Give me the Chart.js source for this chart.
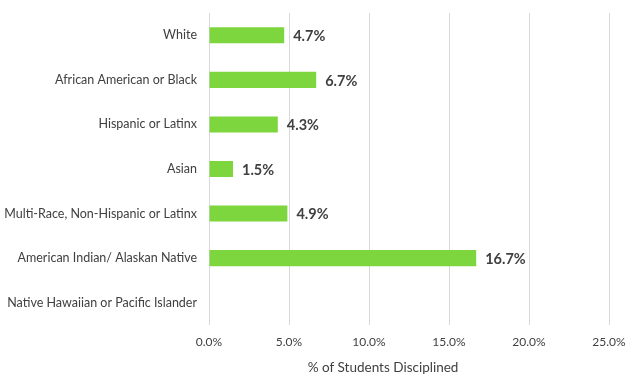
<!DOCTYPE html>
<html>
<head>
<meta charset="utf-8">
<script src="https://cdn.jsdelivr.net/npm/chart.js@4"></script>
<style>
  html, body { margin: 0; padding: 0; background: #fff; }
  #wrap { width: 641px; height: 391px; }
</style>
</head>
<body>
<div id="wrap"><canvas id="chart"></canvas></div>
<script>
// ── DATA ────────────────────────────────────────────────────────────────────
const groups = [
  'White',
  'African American or Black',
  'Hispanic or Latinx',
  'Asian',
  'Multi-Race, Non-Hispanic or Latinx',
  'American Indian/ Alaskan Native',
  'Native Hawaiian or Pacific Islander'
];
const pctDisciplined = [4.7, 6.7, 4.3, 1.5, 4.9, 16.7, null];
const xTicks = [0, 5, 10, 15, 20, 25];
const xTitle = '% of Students Disciplined';

const TEXT = '#404040';
const FONT = 'Lato';

// bar-end value labels + axis title (Excel puts it off-centre)
const valueLabels = {
  id: 'valueLabels',
  afterDatasetsDraw(chart) {
    const ctx = chart.ctx;
    const meta = chart.getDatasetMeta(0);
    ctx.save();
    ctx.font = 'bold 14.5px ' + FONT;
    ctx.fillStyle = TEXT;
    ctx.textAlign = 'left';
    ctx.textBaseline = 'middle';
    meta.data.forEach((bar, i) => {
      const v = pctDisciplined[i];
      if (v == null) return;
      ctx.fillText(v.toFixed(1) + '%', bar.x + 9, bar.y + 1);
    });
    ctx.font = '13.5px ' + FONT;
    ctx.textAlign = 'center';
    const xs = chart.scales.x;
    ctx.fillText(xTitle, xs.left + (xs.right - xs.left) * 0.435, chart.chartArea.bottom + 43);
    ctx.restore();
  }
};

new Chart(document.getElementById('chart'), {
  type: 'bar',
  data: {
    labels: groups,
    datasets: [{
      data: pctDisciplined,
      backgroundColor: '#7DD63D',
      borderWidth: 0,
      barPercentage: 0.36,
      categoryPercentage: 1
    }]
  },
  options: {
    indexAxis: 'y',
    responsive: true,
    maintainAspectRatio: false,
    animation: false,
    layout: { padding: { top: 13, right: 32, left: 0, bottom: 0 } },
    plugins: { legend: { display: false }, tooltip: { enabled: false } },
    scales: {
      x: {
        min: 0,
        max: 25,
        afterBuildTicks: s => { s.ticks = xTicks.map(v => ({ value: v })); },
        afterFit: s => { s.height = 66; },
        grid: { color: '#D9D9D9', lineWidth: 1, drawTicks: false },
        border: { display: false },
        ticks: {
          color: TEXT,
          font: { family: FONT, size: 12 },
          padding: 10,
          callback: v => v.toFixed(1) + '%'
        }
      },
      y: {
        afterFit: s => { s.width = 209; s.paddingTop = 0; s.paddingBottom = 0; },
        grid: { display: false, drawTicks: false },
        border: { display: false },
        ticks: {
          color: TEXT,
          font: { family: FONT, size: 12.5 },
          padding: 12
        }
      }
    }
  },
  plugins: [valueLabels]
});
</script>
</body>
</html>
